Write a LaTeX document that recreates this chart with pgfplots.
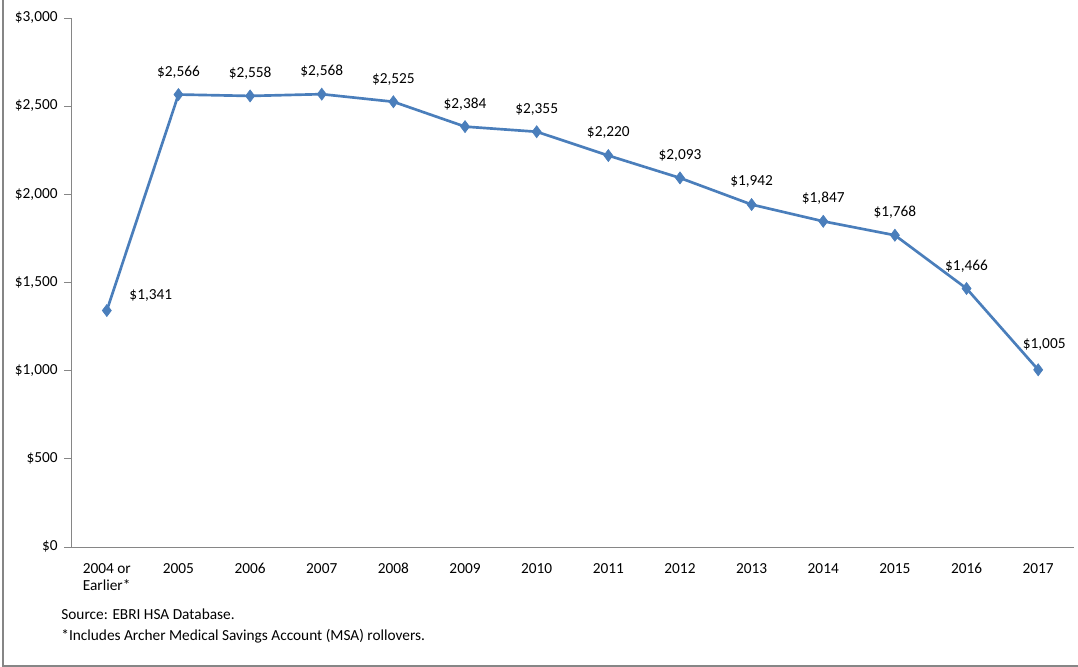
\documentclass[border=0pt]{standalone}
\usepackage{pgfplots}
\usepackage{pgfplotstable}
\pgfplotsset{compat=1.18}
\usepackage{fontspec}
\setmainfont{Carlito}
\definecolor{linec}{HTML}{4A7EBB}
\definecolor{axc}{HTML}{868686}
\pgfplotstableread{
x y dx dy lab
0 1341 33 11 {\$1,341}
1 2566 0 17 {\$2,566}
2 2558 0 17 {\$2,558}
3 2568 0 17 {\$2,568}
4 2525 0 17 {\$2,525}
5 2384 0 17 {\$2,384}
6 2355 0 17 {\$2,355}
7 2220 0 17 {\$2,220}
8 2093 0 17 {\$2,093}
9 1942 0 17 {\$1,942}
10 1847 0 17 {\$1,847}
11 1768 0 17 {\$1,768}
12 1466 0 17 {\$1,466}
13 1005 4.5 19 {\$1,005}
}\datatable
\newcommand\tfont{\fontsize{11.5pt}{13.8pt}\selectfont}
\newcommand\yl[1]{\mbox{\tfont\strut\$#1}}
\newcommand\xl[1]{\mbox{\tfont\strut #1}}
\begin{document}
\tfont
\begin{tikzpicture}[x=0.75pt,y=0.75pt]
\path[use as bounding box] (-71,-120) rectangle (1007,547);
\draw[axc,line width=0.9pt] (-68,547) -- (-68,-119) -- (1007,-119);
\begin{axis}[
  at={(0,0)}, anchor=south west,
  scale only axis, width=752.25pt, height=396.75pt,
  xmin=-0.5, xmax=13.5, ymin=0, ymax=3000,
  axis x line*=bottom, axis y line*=left,
  axis line style={axc, line width=0.6pt},
  xtick={0,...,13},
  xticklabels={{\xl{2004 or}\\[-1pt]\xl{Earlier*}},\xl{2005},\xl{2006},\xl{2007},\xl{2008},\xl{2009},\xl{2010},\xl{2011},\xl{2012},\xl{2013},\xl{2014},\xl{2015},\xl{2016},\xl{2017}},
  xticklabel style={align=left, anchor=north, font=\tfont, yshift=-1pt, black},
  extra x ticks={-0.5,0.5,...,13.5}, extra x tick labels={},
  extra x tick style={major tick length=5pt, tick style={axc, line width=0.6pt}, tick align=outside},
  major x tick style={draw=none},
  ytick={0,500,...,3000},
  yticklabels={\yl{0},\yl{500},\yl{1,000},\yl{1,500},\yl{2,000},\yl{2,500},\yl{3,000}},
  yticklabel style={font=\tfont, xshift=-1pt, black},
  ytick style={axc, line width=0.6pt}, tick align=outside, major tick length=5pt,
  clip=false,
  nodes near coords, point meta=explicit symbolic,
  visualization depends on={\thisrow{dx} \as \dx},
  visualization depends on={\thisrow{dy} \as \dy},
  every node near coord/.append style={font=\tfont, black, anchor=center, xshift=\dx pt, yshift=\dy pt},
]
\addplot[linec, line width=2pt, mark=diamond*, mark size=4.5pt, mark options={fill=linec, line width=0.5pt}]
 table[x=x, y=y, meta=lab] {\datatable};
\end{axis}
\node[anchor=west] at (-15,-67) {Source: EBRI HSA Database.};
\node[anchor=west] at (-15,-89) {*Includes Archer Medical Savings Account (MSA) rollovers.};
\end{tikzpicture}
\end{document}
